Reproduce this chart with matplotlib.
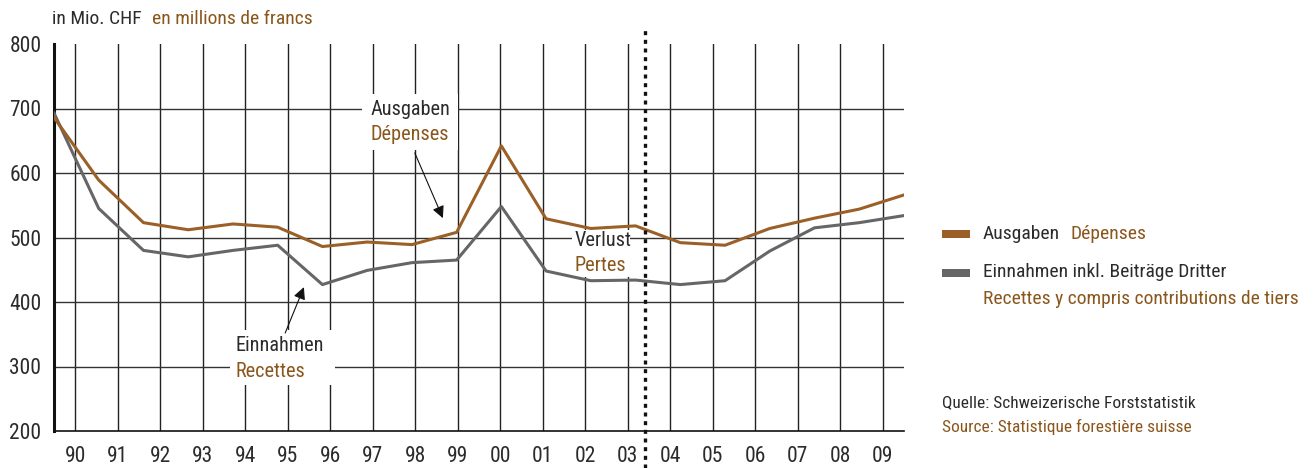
import matplotlib
matplotlib.use("Agg")
import matplotlib.pyplot as plt
from matplotlib.patches import Rectangle
import numpy as np

YEARS = ["90", "91", "92", "93", "94", "95", "96", "97", "98", "99",
         "00", "01", "02", "03", "04", "05", "06", "07", "08", "09"]
AUSGABEN = [686, 589, 523, 512, 521, 516, 486, 493, 489, 508,
            642, 529, 514, 518, 492, 488, 514, 530, 544, 566]
EINNAHMEN = [693, 545, 480, 470, 480, 488, 427, 449, 461, 465,
             548, 448, 433, 434, 427, 433, 479, 515, 523, 534]

BROWN = "#9a6028"
GREY = "#666666"
TXT_DARK = "#2b2b2b"
TXT_BROWN = "#8b561c"
FONT = ["Roboto Condensed", "Archivo Narrow", "Barlow Semi Condensed", "DejaVu Sans"]

plt.rcParams["font.family"] = FONT

fig = plt.figure(figsize=(13.16, 4.68), dpi=100)
ax = fig.add_axes([54 / 1316, 1 - 431 / 468, 850 / 1316, 387 / 468])

n = len(YEARS)
ax.set_xlim(-0.5, n - 0.5)
ax.set_ylim(200, 800)

# points run edge to edge, labels sit in the middle of each year cell
xs = np.linspace(-0.5, n - 0.5, n)

for x in range(n):
    ax.axvline(x, color="#222222", lw=1.0, zorder=0.5)
for y in range(300, 800, 100):
    ax.axhline(y, color="#333333", lw=1.0, zorder=0.5)

# white label boxes over the grid
for (x0, x1, y0, y1) in [(6.75, 9.01, 636, 722), (3.64, 6.11, 271, 357), (11.69, 13.05, 439, 512)]:
    ax.add_patch(Rectangle((x0, y0), x1 - x0, y1 - y0, facecolor="white",
                           edgecolor="none", zorder=1))

ax.plot(xs, EINNAHMEN, color=GREY, lw=2.2, zorder=3)
ax.plot(xs, AUSGABEN, color=BROWN, lw=2.2, zorder=3)

ax.vlines(13.4, -0.096, 1.036, transform=ax.get_xaxis_transform(),
          colors="#111111", linestyles=(0, (1.2, 1.4)), lw=2.4, clip_on=False, zorder=4)

ax.set_xticks(range(n))
ax.set_xticklabels(YEARS)
ax.set_yticks(range(200, 801, 100))
ax.tick_params(axis="both", length=0, labelsize=15.5, colors=TXT_DARK)
ax.tick_params(axis="x", pad=11)
ax.tick_params(axis="y", pad=9)

for s in ["top", "right"]:
    ax.spines[s].set_visible(False)
ax.spines["left"].set_linewidth(2.2)
ax.spines["left"].set_color("#111111")
ax.spines["bottom"].set_linewidth(1.2)
ax.spines["bottom"].set_color("#111111")

# annotations
kw = dict(fontsize=14.6, va="center", ha="left", zorder=5)
ax.text(6.94, 698, "Ausgaben", color=TXT_DARK, **kw)
ax.text(6.94, 659, "Dépenses", color=TXT_BROWN, **kw)
ax.annotate("", xy=(8.65, 530), xytext=(7.99, 631),
            arrowprops=dict(arrowstyle="-|>", color="#111111", lw=0.8,
                            mutation_scale=18, shrinkA=0, shrinkB=0), zorder=5)
ax.text(3.78, 332, "Einnahmen", color=TXT_DARK, **kw)
ax.text(3.78, 293, "Recettes", color=TXT_BROWN, **kw)
ax.annotate("", xy=(5.38, 423), xytext=(4.94, 352),
            arrowprops=dict(arrowstyle="-|>", color="#111111", lw=0.8,
                            mutation_scale=18, shrinkA=0, shrinkB=0), zorder=5)
ax.text(11.74, 496, "Verlust", color=TXT_DARK, **kw)
ax.text(11.74, 456, "Pertes", color=TXT_BROWN, **kw)

# unit title
fig.text(52 / 1316, 1 - 19 / 468, "in Mio. CHF", color=TXT_DARK, fontsize=14, va="center")
fig.text(152 / 1316, 1 - 19 / 468, "en millions de francs", color=TXT_BROWN, fontsize=14, va="center")

# legend
fig.add_artist(Rectangle((942 / 1316, 1 - 238 / 468), 28 / 1316, 8 / 468,
                         facecolor=BROWN, edgecolor="none", transform=fig.transFigure))
fig.add_artist(Rectangle((942 / 1316, 1 - 277 / 468), 28 / 1316, 8 / 468,
                         facecolor=GREY, edgecolor="none", transform=fig.transFigure))
lk = dict(fontsize=14, va="center", ha="left")
fig.text(983 / 1316, 1 - 234 / 468, "Ausgaben", color=TXT_DARK, **lk)
fig.text(1070 / 1316, 1 - 234 / 468, "Dépenses", color=TXT_BROWN, **lk)
fig.text(983 / 1316, 1 - 272 / 468, "Einnahmen inkl. Beiträge Dritter", color=TXT_DARK, **lk)
fig.text(983 / 1316, 1 - 299 / 468, "Recettes y compris contributions de tiers", color=TXT_BROWN, **lk)

fig.text(942 / 1316, 1 - 403 / 468, "Quelle: Schweizerische Forststatistik", color=TXT_DARK,
         fontsize=12.5, va="center")
fig.text(942 / 1316, 1 - 427 / 468, "Source: Statistique forestière suisse", color=TXT_BROWN,
         fontsize=12.5, va="center")

fig.savefig("out.png", dpi=100)
